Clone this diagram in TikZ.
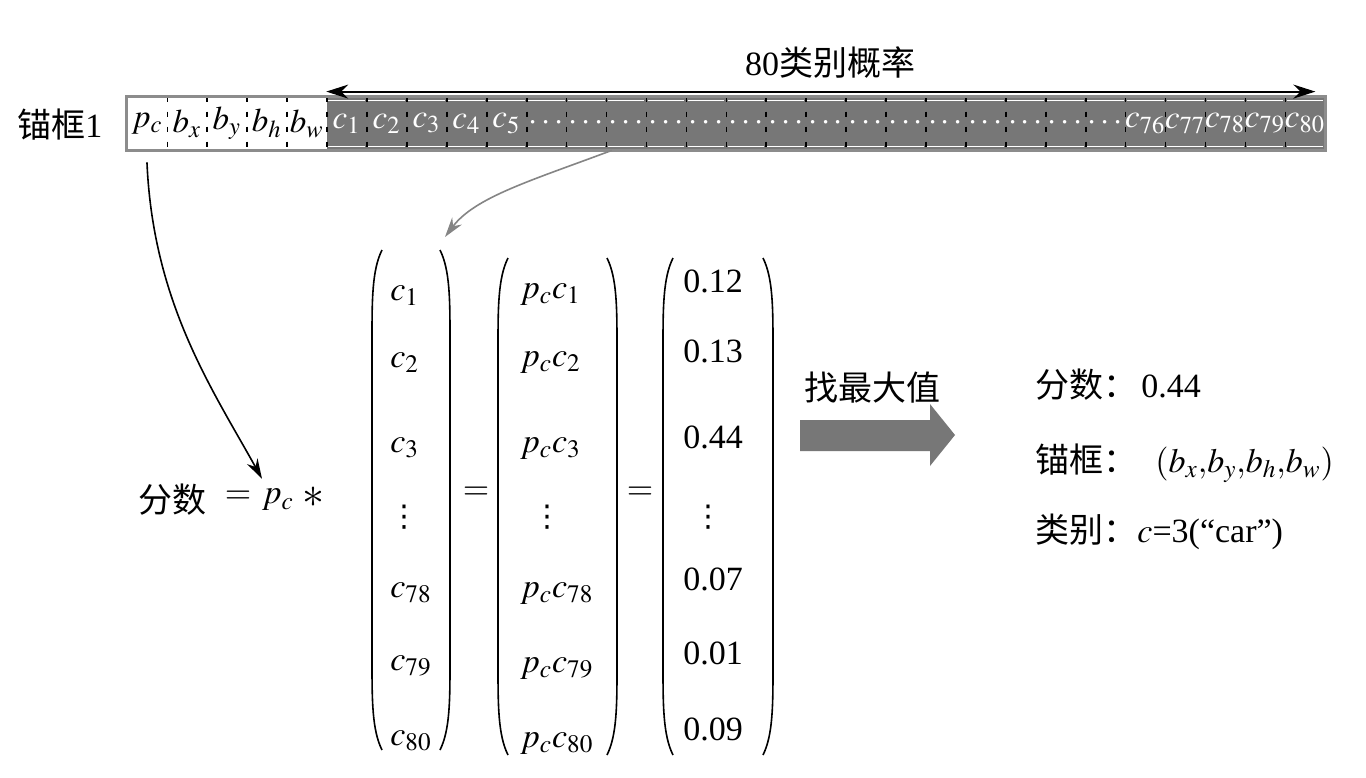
\documentclass[tikz,border=0pt]{standalone}
\usepackage{mathptmx}
\usepackage[no-math]{fontspec}
\setmainfont{Liberation Serif}
\newfontfamily\cjk{Noto Sans CJK SC}
\newfontfamily\dotsfont{DejaVu Sans}
\usepackage{tikz}
\usepackage{xcolor}
\usetikzlibrary{arrows.meta,positioning,calc}
\definecolor{cellgray}{HTML}{777777}
\definecolor{rimgray}{HTML}{8C8C8C}
\definecolor{arrgray}{HTML}{858585}

\begin{document}
\begin{tikzpicture}[
  x=0.5pt, y=0.5pt,
  every node/.style={font=\fontsize{17}{20}\selectfont, inner sep=0pt},
  cellbox/.style={minimum width=19.965pt, minimum height=26.5pt, inner sep=0pt, fill=#1, font=\fontsize{16.5}{19}\selectfont},
  lightcell/.style={cellbox=white},
  darkcell/.style={cellbox=cellgray, text=white},
  sep/.style={draw=black, line width=0.8pt, dash pattern=on 2.5pt off 5pt},
  rim/.style={draw=rimgray, line width=1.5pt},
  inline/.style={white, line width=0.7pt},
  entry/.style={anchor=base west},
  vdot/.style={anchor=base west, font=\dotsfont\fontsize{15}{18}\selectfont},
  paren/.style={line width=0.8pt},
  arr/.style={-{Stealth[length=10pt,width=6pt]}, line width=0.8pt}
]
\path[fill=white, use as bounding box] (0,0) rectangle (1366,-777);

\foreach \lab [count=\i from 0] in {$p_c$,$b_x$,$b_y$,$b_h$,$b_w$}
  \node[lightcell] (cell\i) at ({127+39.93*(\i+0.5)},-123.5) {\lab};
\foreach \lab [count=\i from 5] in {$c_1$,$c_2$,$c_3$,$c_4$,$c_5$}
  \node[darkcell] (cell\i) at ({127+39.93*(\i+0.5)},-123.5) {\lab};
\foreach \i in {10,...,24}
  \node[darkcell] (cell\i) at ({127+39.93*(\i+0.5)},-123.5) {$\cdots$};
\foreach \lab [count=\i from 25] in {$c_{76}$,$c_{77}$,$c_{78}$,$c_{79}$,$c_{80}$}
  \node[darkcell] (cell\i) at ({127+39.93*(\i+0.5)},-123.5) {\lab};

\foreach \i in {5,...,29} {
  \draw[inline] ([shift={(1pt,-2pt)}]cell\i.north west) -- ([shift={(-1pt,-2pt)}]cell\i.north east);
  \draw[inline] ([shift={(1pt,2pt)}]cell\i.south west) -- ([shift={(-1pt,2pt)}]cell\i.south east);
}
\foreach \i in {0,...,28}
  \draw[sep] (cell\i.north east) -- (cell\i.south east);
\draw[rim] (cell0.north west) rectangle (cell29.south east);

\node (anchorlbl) at (60,-125) {{\cjk 锚框}1};
\node (probs) at (830,-63) {80{\cjk 类别概率}};
\draw[{Stealth[length=11pt,width=7pt]}-{Stealth[length=11pt,width=7pt]}, line width=1pt]
  ([yshift=2.5pt]cell5.north west) -- ([shift={(-5pt,2.5pt)}]cell29.north east);

\node (scorelbl) at (172,-500) {{\cjk 分数}};
\node (eqsign) at (238,-497) {$=$};
\node (pcnode) at (278,-500) {$p_c$};
\node (star) at (313,-497) {\fontsize{22}{22}\selectfont$\ast$};
\draw[arr] ([yshift=-6pt]cell0.south) .. controls +(6,-140) and +(-50,90) .. ([shift={(-8pt,5pt)}]pcnode.north);

\coordinate (vecin) at (445,-237);
\draw[arr, draw=arrgray] ([xshift=3pt]cell12.south west) .. controls +(-80,-30) and +(30,40) .. (vecin);

\foreach \xl/\xr/\yt/\yb in {372/450/250/750, 498/617/258/755, 663/773/258/755} {
  \draw[paren] ({\xl+10},{-\yt}) .. controls ({\xl},{-\yt-20}) and ({\xl},{-\yt-50}) .. ({\xl},{-\yt-90})
    -- ({\xl},{-\yb+90}) .. controls ({\xl},{-\yb+50}) and ({\xl},{-\yb+20}) .. ({\xl+10},{-\yb});
  \draw[paren] ({\xr-10},{-\yt}) .. controls ({\xr},{-\yt-20}) and ({\xr},{-\yt-50}) .. ({\xr},{-\yt-90})
    -- ({\xr},{-\yb+90}) .. controls ({\xr},{-\yb+50}) and ({\xr},{-\yb+20}) .. ({\xr-10},{-\yb});
}

\foreach \y/\lab [count=\k] in {300/$c_1$, 367/$c_2$, 452/$c_3$, 597/$c_{78}$, 670/$c_{79}$, 745/$c_{80}$}
  \node[entry] (veca\k) at (390,-\y) {\lab};
\foreach \y/\lab [count=\k] in {298/$p_cc_1$, 366/$p_cc_2$, 452/$p_cc_3$, 597/$p_cc_{78}$, 672/$p_cc_{79}$, 747/$p_cc_{80}$}
  \node[entry] (vecb\k) at (520,-\y) {\lab};
\foreach \y/\lab [count=\k] in {292/0.12, 362/0.13, 448/0.44, 590/0.07, 664/0.01, 740/0.09}
  \node[entry] (vecc\k) at (683,-\y) {\lab};
\node[vdot] (vecadots) at (389,-526) {⋮};
\node[vdot] (vecbdots) at (532,-526) {⋮};
\node[vdot] (veccdots) at (693,-526) {⋮};

\node (eqa) at (476,-493) {$=$};
\node (eqb) at (640,-493) {$=$};

\node (findmax) at (872,-388) {{\cjk 找最大值}};
\fill[cellgray] (800,-420) -- (930,-420) -- (930,-404) -- (955,-435) -- (930,-466) -- (930,-451) -- (800,-451) -- cycle;

\node[entry] (resscore) at (1035,-397) {{\cjk 分数：}\hspace{2pt}0.44};
\node[entry] (resbox) at (1035,-472) {{\cjk 锚框：}\hspace{9pt}$(b_x{,}b_y{,}b_h{,}b_w)$};
\node[entry] (rescls) at (1035,-542) {{\cjk 类别：}$c$=3(“car”)};
\end{tikzpicture}
\end{document}
